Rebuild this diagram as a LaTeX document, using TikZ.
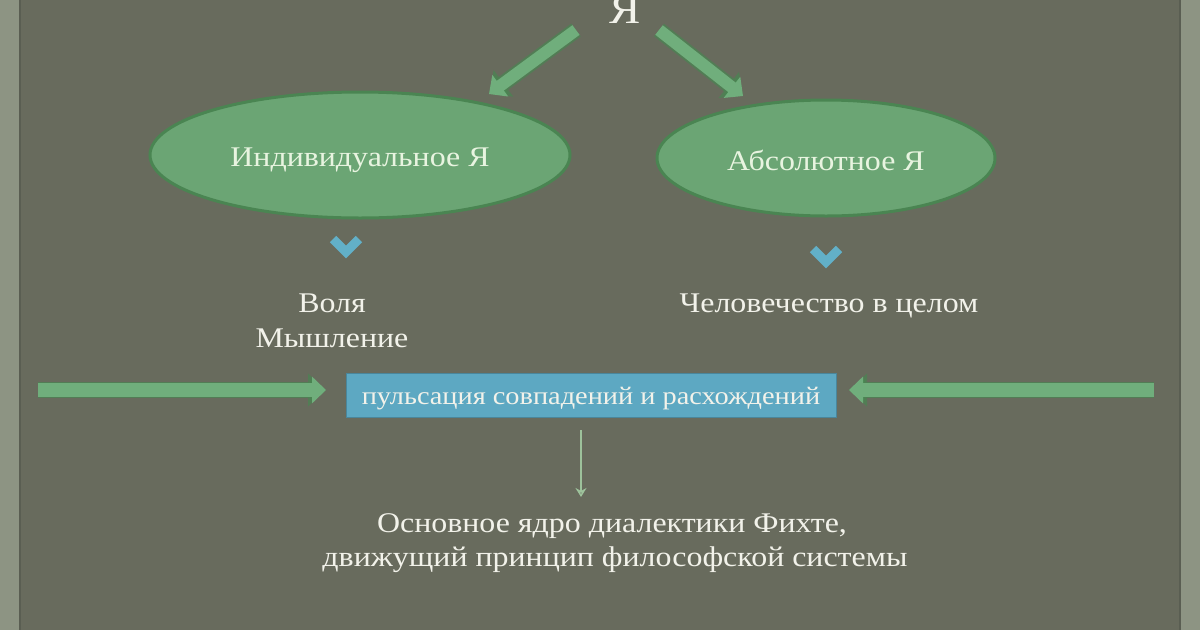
\documentclass[tikz,border=0pt]{standalone}
\usepackage{fontspec}
\setmainfont[FakeStretch=1.12]{Liberation Serif}
\usetikzlibrary{arrows.meta,shapes.geometric}
\definecolor{bg}{HTML}{686B5D}
\definecolor{strip}{HTML}{8D9483}
\definecolor{stripedge}{HTML}{5A5E52}
\definecolor{ellfill}{HTML}{6BA574}
\definecolor{ellglow}{HTML}{4A8552}
\definecolor{arrfill}{HTML}{70AE7C}
\definecolor{boxfill}{HTML}{5DA8C2}
\definecolor{chev}{HTML}{62B0C8}
\definecolor{txt}{HTML}{F2F2EA}
\definecolor{elltxt}{HTML}{E8F4E0}
\definecolor{thin}{HTML}{9DC29B}
\tikzset{
  ell/.style={ellipse, draw=ellglow, line width=3pt, fill=ellfill},
  blockarrow/.style={line width=12pt, draw=arrfill, -{Triangle[width=26pt,length=14pt]},
    preaction={draw=ellglow, draw opacity=0.7, line width=16pt, -{Triangle[width=32pt,length=18pt]}}},
  chevron/.style={line width=9pt, draw=chev, line join=miter},
  lbl/.style={text=txt, font=\fontsize{28.5}{30}\selectfont, inner sep=0pt},
}
\begin{document}
\begin{tikzpicture}[x=1pt,y=-1pt]
\useasboundingbox (0,0) rectangle (1200,630);
\fill[bg] (0,0) rectangle (1200,630);
\fill[strip] (0,0) rectangle (20,630);
\fill[strip] (1180,0) rectangle (1200,630);
\draw[stripedge, line width=1.5pt] (20,0) -- (20,630);
\draw[stripedge, line width=1.5pt] (1180,0) -- (1180,630);

% top
\node[lbl, anchor=base, font=\fontsize{42}{44}\selectfont] (ya) at (625,23) {Я};

% ellipses
\node[ell, minimum width=420pt, minimum height=126pt] (ind) at (360,155) {};
\node[text=elltxt, anchor=base, inner sep=0pt, font=\fontsize{28.5}{30}\selectfont] (indt) at (360,166) {Индивидуальное Я};
\node[ell, minimum width=338pt, minimum height=116pt] (abs) at (826,158) {};
\node[text=elltxt, anchor=base, inner sep=0pt, font=\fontsize{28.5}{30}\selectfont] (abst) at (826,170) {Абсолютное Я};

% diagonal arrows
\coordinate (l1) at (576,30);
\coordinate (l2) at (489,94);
\coordinate (r1) at (659,30);
\coordinate (r2) at (743,96);
\draw[blockarrow] (l1) -- (l2);
\draw[blockarrow] (r1) -- (r2);

% chevrons
\coordinate (c1a) at (333,239);
\coordinate (c1b) at (346,252);
\coordinate (c1c) at (359,239);
\draw[chevron] (c1a) -- (c1b) -- (c1c);
\coordinate (c2a) at (813,249);
\coordinate (c2b) at (826,262);
\coordinate (c2c) at (839,249);
\draw[chevron] (c2a) -- (c2b) -- (c2c);

% texts
\node[lbl, anchor=base] (volya) at (332,312) {Воля};
\node[lbl, anchor=base] (mysh) at (332,347) {Мышление};
\node[lbl, anchor=base] (chel) at (829,312) {Человечество в целом};

% box
\node[draw=boxfill!80!black, line width=1pt, fill=boxfill, minimum width=490pt, minimum height=44pt, inner sep=0pt] (box) at (591,395) {};
\node[text=txt, anchor=base, font=\fontsize{25.3}{28}\selectfont, inner sep=0pt] (boxt) at (591,404) {пульсация совпадений и расхождений};

% horizontal arrows
\coordinate (h1) at (38,390);
\coordinate (h1e) at (326,390);
\coordinate (h2) at (1154,390);
\coordinate (h2e) at (849,390);
\draw[blockarrow, line width=14pt] (h1) -- (h1e);
\draw[blockarrow, line width=14pt] (h2) -- (h2e);

% thin down arrow
\coordinate (d1) at (581,430);
\coordinate (d2) at (581,497);
\draw[draw=thin, line width=1.6pt, -{Stealth[length=9pt,width=11pt,open]}] (d1) -- (d2);

% bottom text
\node[lbl, anchor=base] (b1) at (612,532) {Основное ядро диалектики Фихте,};
\node[lbl, anchor=base] (b2) at (615,566) {движущий принцип философской системы};
\end{tikzpicture}
\end{document}
